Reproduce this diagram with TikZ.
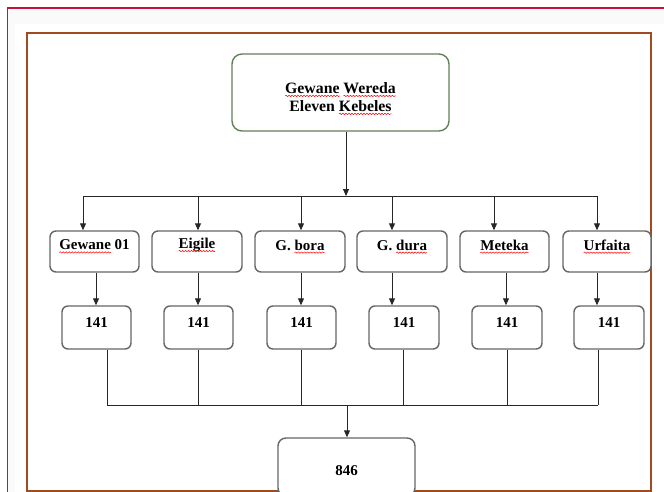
\documentclass[tikz,border=0pt]{standalone}
\usepackage{fontspec}
\setmainfont{Liberation Serif}
\usepackage{xcolor}
\usetikzlibrary{arrows.meta,decorations.pathmorphing}
\definecolor{framebrown}{HTML}{A04A22}
\definecolor{pagered}{HTML}{C8103C}
\definecolor{pagegray}{HTML}{FBFAFB}
\definecolor{boxgray}{HTML}{666666}
\definecolor{topgreen}{HTML}{62805A}
\newcommand\redwave[1]{\tikz[baseline=(wavyword.base)]{\node[inner sep=0pt, outer sep=0pt] (wavyword) {#1};
  \draw[overlay, red, line width=0.5pt, decorate, decoration={snake, amplitude=0.7pt, segment length=3pt}] ([yshift=-2.5pt]wavyword.base west) -- ([yshift=-2.5pt]wavyword.base east);}}
\tikzset{
  boxbase/.style={draw=boxgray, line width=1.4pt, fill=white, rounded corners=6pt, inner sep=0pt},
  kbox/.style={boxbase, minimum width=89pt, minimum height=41pt},
  nbox/.style={boxbase, minimum width=69pt, minimum height=43pt},
  topbox/.style={draw=topgreen, line width=1.4pt, fill=white, rounded corners=10pt, inner sep=0pt, minimum width=217pt, minimum height=77pt},
  totbox/.style={boxbase, rounded corners=8pt, minimum width=137pt, minimum height=58pt},
  lbl/.style={inner sep=0pt, font=\fontsize{15}{18}\selectfont\bfseries, align=center},
  toplbl/.style={lbl, font=\fontsize{15.8}{18}\selectfont\bfseries},
  conn/.style={line width=0.9pt, draw=black!85},
  arr/.style={conn, -{Triangle[width=6pt,length=7pt]}}
}
\begin{document}
\begin{tikzpicture}[x=1pt,y=-1pt]
\useasboundingbox (0,0) rectangle (664,492);
\clip (0,0) rectangle (664,492);
% page background
\fill[pagegray] (7.5,8) rectangle (664,492);
\fill[white] (15,24) rectangle (664,492);
\draw[pagered, line width=1.4pt] (7.5,495) -- (7.5,8) -- (670,8);
\draw[framebrown, line width=2.8pt] (27,33) rectangle (651,491.5);
% boxes
\node[topbox] (top) at (340.5,92.5) {};
\node[toplbl] (toplbl) at (340.5,97) {\redwave{Gewane} \redwave{Wereda}\\Eleven \redwave{Kebeles}};

\node[kbox] (k1) at (94.5,251.5) {};
\node[kbox, minimum width=90pt] (k2) at (197,251.5) {};
\node[kbox, minimum width=90pt] (k3) at (300,251.5) {};
\node[kbox, minimum width=90pt] (k4) at (402,251.5) {};
\node[kbox] (k5) at (504.5,251.5) {};
\node[kbox, minimum width=88pt] (k6) at (607,251.5) {};
\node[lbl] (t1) at (94.5,245) {\redwave{Gewane} 01};
\node[lbl] (t2) at (197,245) {\redwave{Eigile}};
\node[lbl] (t3) at (300,245) {G. \redwave{bora}};
\node[lbl] (t4) at (402,245) {G. \redwave{dura}};
\node[lbl] (t5) at (504.5,245) {\redwave{Meteka}};
\node[lbl] (t6) at (607,245) {\redwave{Urfaita}};

\node[nbox] (n1) at (96.5,327.5) {};
\node[nbox] (n2) at (198.5,327.5) {};
\node[nbox] (n3) at (301.5,327.5) {};
\node[nbox, minimum width=70pt] (n4) at (404,327.5) {};
\node[nbox, minimum width=70pt] (n5) at (507,327.5) {};
\node[nbox, minimum width=70pt] (n6) at (609,327.5) {};
\foreach \i/\x in {1/96.5,2/198.5,3/301.5,4/404,5/507,6/609}
  \node[lbl] (v\i) at (\x,323) {141};

\node[totbox] (tot) at (346.5,467) {};
\node[lbl] (totlbl) at (346.5,471) {846};

% top bus
\coordinate (b0) at (346,196);
\draw[arr] (top.south -| b0) -- (b0);
\coordinate (c1) at (83,196);
\coordinate (c2) at (198,196);
\coordinate (c3) at (301,196);
\coordinate (c4) at (392,196);
\coordinate (c5) at (494,196);
\coordinate (c6) at (597,196);
\draw[conn] (c1) -- (c6);
\foreach \i in {1,...,6}
  \draw[arr] (c\i) -- (k\i.north -| c\i);

% kebele to number
\coordinate (a1) at (96,0);
\coordinate (a2) at (198,0);
\coordinate (a3) at (301,0);
\coordinate (a4) at (392,0);
\coordinate (a5) at (506,0);
\coordinate (a6) at (597,0);
\foreach \i in {1,...,6}
  \draw[arr] (k\i.south -| a\i) -- (n\i.north -| a\i);

% bottom bus
\coordinate (d1) at (107,405);
\coordinate (d2) at (198,405);
\coordinate (d3) at (301,405);
\coordinate (d4) at (403,405);
\coordinate (d5) at (507,405);
\coordinate (d6) at (598,405);
\foreach \i in {1,...,6}
  \draw[conn] (n\i.south -| d\i) -- (d\i);
\draw[conn] (d1) -- (d6);
\coordinate (m) at (347,405);
\draw[arr] (m) -- (tot.north -| m);
\end{tikzpicture}
\end{document}
